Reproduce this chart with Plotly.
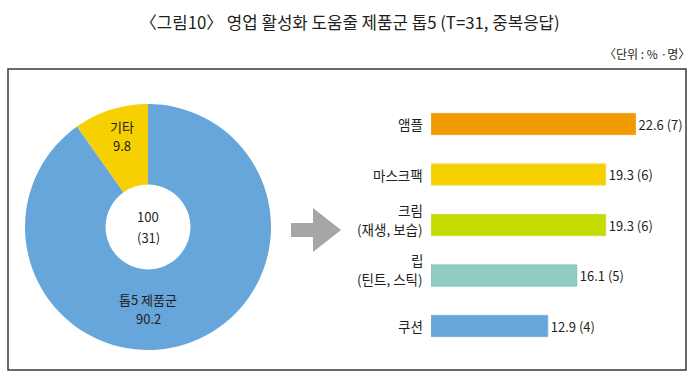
import plotly.graph_objects as go

# ---- data ----
title_text = "〈그림10〉 영업 활성화 도움줄 제품군 톱5 (T=31, 중복응답)"
unit_text = "〈단위 : % ·명〉"

donut_labels = ["톱5 제품군", "기타"]
donut_values = [90.2, 9.8]
donut_total = 100
donut_count = 31

bar_categories = ["앰플", "마스크팩", "크림", "립", "쿠션"]
bar_subtitles = ["", "", "(재생, 보습)", "(틴트, 스틱)", ""]
bar_values = [22.6, 19.3, 19.3, 16.1, 12.9]
bar_counts = [7, 6, 6, 5, 4]

# ---- styles ----
W, H = 700, 381
FONT = "Noto Sans CJK KR"
TXT = "#231f20"
donut_colors = ["#66a6da", "#f6d000"]
bar_colors = ["#f09c00", "#f6d000", "#c4dc00", "#8ecdc0", "#66a6da"]
bar_lines = ["#f0a830", "#f6d840", "#c8e040", "#7cc4b4", "#7ab0de"]
PX_PER_UNIT = 9.05


def px(x):
    return x / W


def py(y):
    return 1 - y / H


fig = go.Figure()

# donut
fig.add_trace(go.Pie(
    labels=donut_labels,
    values=donut_values,
    hole=0.345,
    sort=False,
    direction="clockwise",
    rotation=0,
    marker=dict(colors=donut_colors, line=dict(width=0)),
    textinfo="none",
    hoverinfo="label+value",
    showlegend=False,
    domain=dict(x=[px(25), px(271)], y=[py(350), py(104)]),
))

# bars
bar_text = [f"{v} ({c})" for v, c in zip(bar_values, bar_counts)]
fig.add_trace(go.Bar(
    x=bar_values,
    y=bar_categories,
    orientation="h",
    marker=dict(color=bar_colors, line=dict(color=bar_lines, width=1)),
    width=0.42,
    text=bar_text,
    textposition="outside",
    cliponaxis=False,
    textfont=dict(family=FONT, size=13, color=TXT),
    showlegend=False,
    xaxis="x",
    yaxis="y",
))

annotations = []


def add_text(text, x, y, size=13, anchor="center"):
    annotations.append(dict(text=text, x=px(x), y=py(y), xref="paper", yref="paper",
                            showarrow=False, font=dict(family=FONT, size=size, color=TXT),
                            xanchor=anchor, yanchor="middle"))


# title and unit
add_text(title_text, 350, 22, size=16.8)
add_text(unit_text, 692, 53, size=12, anchor="right")

# donut labels (name line + value line)
label_pos = [(148, 299, 318), (122, 126, 145)]
for (lx, ly1, ly2), lab, val in zip(label_pos, donut_labels, donut_values):
    add_text(lab, lx, ly1)
    add_text(f"{val}", lx, ly2)
add_text(f"{donut_total}", 148, 217)
add_text(f"({donut_count})", 148, 237)

# bar category labels, placed on the category axis
for cat, sub in zip(bar_categories, bar_subtitles):
    lines = [(cat, 0)] if not sub else [(cat, 15.5), (sub, -3.5)]
    for txt, shift in lines:
        annotations.append(dict(text=txt, x=px(425), xref="paper", y=cat, yref="y",
                                yshift=shift, showarrow=False,
                                font=dict(family=FONT, size=13.5, color=TXT),
                                xanchor="right", yanchor="middle"))

shapes = [
    # frame
    dict(type="rect", xref="paper", yref="paper", x0=px(8), x1=px(686), y0=py(370), y1=py(69),
         line=dict(color="#3a3a3a", width=1.5), fillcolor="rgba(0,0,0,0)", layer="below"),
    # arrow
    dict(type="path", xref="paper", yref="paper",
         path=(f"M {px(291)} {py(223)} L {px(313)} {py(223)} L {px(313)} {py(208)} "
               f"L {px(341)} {py(230)} L {px(313)} {py(252)} L {px(313)} {py(237)} "
               f"L {px(291)} {py(237)} Z"),
         fillcolor="#a6a6a6", line=dict(width=0)),
]

fig.update_layout(
    width=W, height=H,
    margin=dict(l=0, r=0, t=0, b=0),
    paper_bgcolor="white", plot_bgcolor="rgba(0,0,0,0)",
    font=dict(family=FONT, size=13, color=TXT),
    xaxis=dict(domain=[px(431), px(431 + 28 * PX_PER_UNIT)], range=[0, 28], visible=False,
               fixedrange=True),
    yaxis=dict(domain=[py(351.25), py(98.75)], autorange="reversed", showgrid=False, zeroline=False,
               showline=False, ticks="", showticklabels=False, fixedrange=True),
    annotations=annotations,
    shapes=shapes,
    showlegend=False,
)

fig.write_html(
    "out.html",
    config={"displayModeBar": False},
    post_script="document.body.style.margin='0';document.body.style.padding='0';"
                "document.documentElement.style.overflow='hidden';",
)
